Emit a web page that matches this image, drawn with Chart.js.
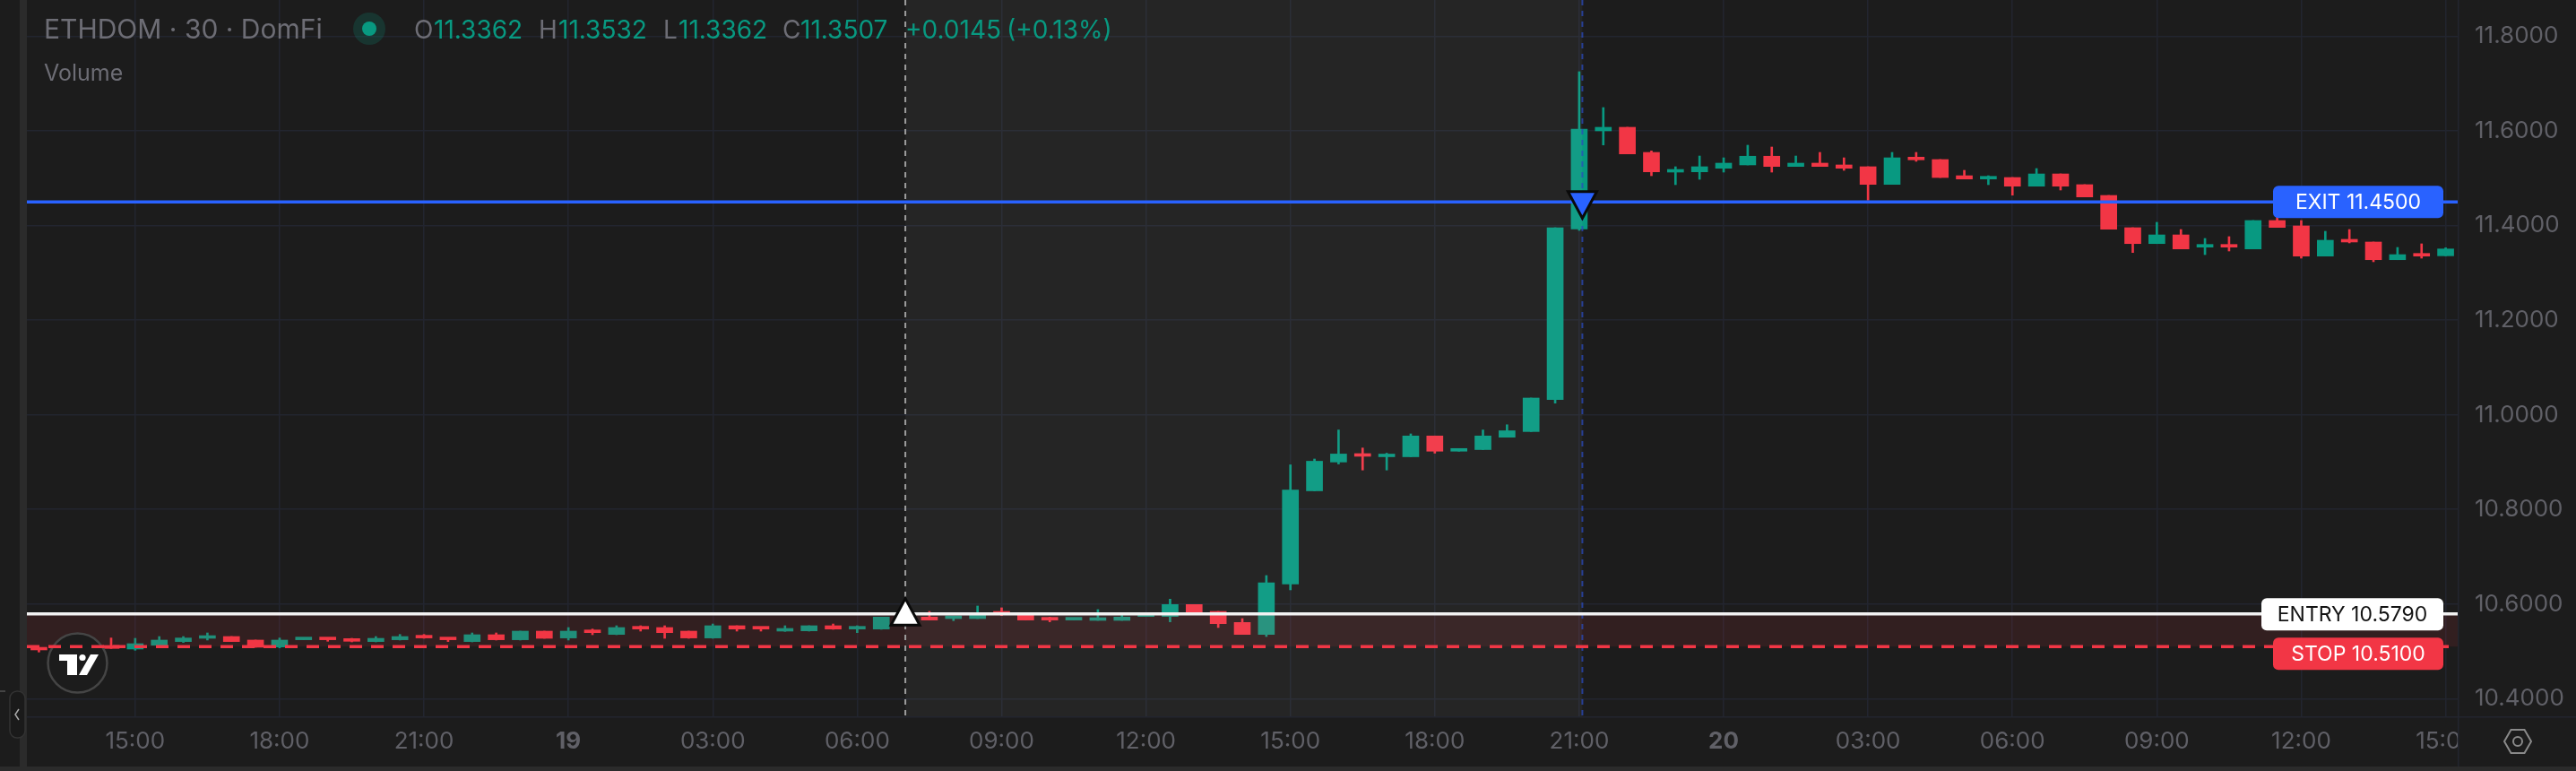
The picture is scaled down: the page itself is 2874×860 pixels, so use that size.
<!DOCTYPE html>
<html>
<head>
<meta charset="utf-8">
<style>
html,body{margin:0;padding:0;background:#1c1c1c;overflow:hidden}
canvas{display:block}
</style>
<script src="https://cdn.jsdelivr.net/npm/chart.js@4/dist/chart.umd.min.js"></script>
</head>
<body>
<canvas id="c" width="2874" height="860"></canvas>
<script>
const categories = [
"13:00","13:30","14:00","14:30","15:00","15:30","16:00","16:30","17:00","17:30","18:00","18:30",
"19:00","19:30","20:00","20:30","21:00","21:30","22:00","22:30","23:00","23:30",
"19","00:30","01:00","01:30","02:00","02:30","03:00","03:30","04:00","04:30","05:00","05:30","06:00","06:30",
"07:00","07:30","08:00","08:30","09:00","09:30","10:00","10:30","11:00","11:30","12:00","12:30",
"13:00","13:30","14:00","14:30","15:00","15:30","16:00","16:30","17:00","17:30","18:00","18:30",
"19:00","19:30","20:00","20:30","21:00","21:30","22:00","22:30","23:00","23:30",
"20","00:30","01:00","01:30","02:00","02:30","03:00","03:30","04:00","04:30","05:00","05:30","06:00","06:30",
"07:00","07:30","08:00","08:30","09:00","09:30","10:00","10:30","11:00","11:30","12:00","12:30",
"13:00","13:30","14:00","14:30","15:00"];
const tickLabels = ["15:00","18:00","21:00","19","03:00","06:00","09:00","12:00","20"];
const dayLabels = ["19","20"];
const priceTicks = [10.4,10.6,10.8,11.0,11.2,11.4,11.6,11.8];

const opens = [10.5054,10.5040,10.5060,10.5124,10.5048,10.5130,10.5206,10.5275,10.5313,10.5238,
10.5092,10.5244,10.5275,10.5244,10.5206,10.5244,10.5320,10.5275,10.5206,10.5351,
10.5244,10.5427,10.5282,10.5433,10.5357,10.5503,10.5503,10.5427,10.5282,10.5541,
10.5503,10.5427,10.5433,10.5541,10.5471,10.5471,10.5660,10.5724,10.5692,10.5692,
10.5800,10.5800,10.5686,10.5661,10.5654,10.5654,10.5736,10.5736,10.5989,10.5844,
10.5610,10.5357,10.6422,10.8393,10.9002,10.9172,10.9113,10.9113,10.9553,10.9231,
10.9265,10.9527,10.9646,11.0323,11.3928,11.6003,11.6079,11.5548,11.5131,11.5137,
11.5213,11.5283,11.5467,11.5251,11.5321,11.5283,11.5245,11.4872,11.5434,11.5397,
11.5055,11.4985,11.5017,11.4834,11.5093,11.4866,11.4638,11.3956,11.3620,11.3804,
11.3545,11.3577,11.3507,11.4108,11.3994,11.3355,11.3691,11.3653,11.3279,11.3387,11.3362];
const highs = [10.5061,10.5070,10.5085,10.5282,10.5275,10.5313,10.5313,10.5389,10.5313,10.5238,
10.5282,10.5275,10.5288,10.5275,10.5313,10.5357,10.5357,10.5288,10.5389,10.5389,
10.5427,10.5427,10.5503,10.5471,10.5541,10.5541,10.5541,10.5427,10.5578,10.5541,
10.5503,10.5541,10.5541,10.5578,10.5541,10.5724,10.5795,10.5844,10.5724,10.5958,
10.5920,10.5805,10.5724,10.5686,10.5882,10.5787,10.5800,10.6103,10.5989,10.5844,
10.5692,10.6602,10.8943,10.9066,10.9680,10.9299,10.9189,10.9597,10.9553,10.9282,
10.9680,10.9790,11.0355,11.3956,11.7254,11.6496,11.6079,11.5580,11.5245,11.5472,
11.5434,11.5700,11.5662,11.5472,11.5548,11.5434,11.5245,11.5548,11.5548,11.5397,
11.5169,11.5055,11.5017,11.5207,11.5093,11.4866,11.4638,11.3956,11.4070,11.3918,
11.3729,11.3767,11.4108,11.4221,11.4108,11.3880,11.3918,11.3653,11.3539,11.3615,11.3532];
const lows = [10.4985,10.5030,10.5050,10.5061,10.5023,10.5124,10.5187,10.5238,10.5206,10.5086,
10.5073,10.5244,10.5212,10.5199,10.5199,10.5238,10.5275,10.5206,10.5199,10.5238,
10.5238,10.5275,10.5238,10.5351,10.5351,10.5427,10.5275,10.5275,10.5275,10.5427,
10.5427,10.5421,10.5427,10.5465,10.5395,10.5465,10.5650,10.5661,10.5648,10.5692,
10.5755,10.5661,10.5623,10.5661,10.5654,10.5654,10.5736,10.5623,10.5787,10.5503,
10.5357,10.5313,10.6299,10.8393,10.8960,10.8833,10.8833,10.9113,10.9189,10.9231,
10.9265,10.9527,10.9646,11.0247,11.3899,11.5705,11.5516,11.5055,11.4866,11.4979,
11.5131,11.5283,11.5131,11.5251,11.5251,11.5169,11.4538,11.4872,11.5359,11.5017,
11.4985,11.4866,11.4644,11.4834,11.4752,11.4606,11.3924,11.3431,11.3620,11.3507,
11.3387,11.3463,11.3507,11.3962,11.3312,11.3355,11.3634,11.3236,11.3279,11.3312,11.3362];
const closes = [10.5029,10.5060,10.5075,10.5061,10.5162,10.5238,10.5282,10.5326,10.5206,10.5086,
10.5238,10.5275,10.5244,10.5212,10.5275,10.5313,10.5282,10.5244,10.5351,10.5244,
10.5427,10.5275,10.5427,10.5395,10.5503,10.5471,10.5395,10.5282,10.5541,10.5471,
10.5471,10.5465,10.5541,10.5471,10.5503,10.5724,10.5792,10.5661,10.5724,10.5768,
10.5787,10.5661,10.5661,10.5686,10.5686,10.5724,10.5787,10.5989,10.5787,10.5585,
10.5357,10.6450,10.8410,10.9019,10.9172,10.9123,10.9146,10.9553,10.9231,10.9282,
10.9553,10.9663,11.0355,11.3956,11.6041,11.6079,11.5516,11.5137,11.5169,11.5245,
11.5321,11.5467,11.5251,11.5321,11.5251,11.5213,11.4872,11.5434,11.5391,11.5017,
11.4985,11.5017,11.4834,11.5093,11.4834,11.4606,11.3924,11.3620,11.3804,11.3507,
11.3577,11.3545,11.4108,11.3962,11.3355,11.3691,11.3653,11.3279,11.3387,11.3355,11.3507];

const levelExit = 11.45, levelEntry = 10.579, levelStop = 10.51;
const entryIndex = 36, exitIndex = 64;
const exitTag = "EXIT 11.4500", entryTag = "ENTRY 10.5790", stopTag = "STOP 10.5100";
const headerTitle = "ETHDOM · 30 · DomFi";
const headerValues = ["11.3362","11.3532","11.3362","11.3507"];
const headerChange = "+0.0145", headerPct = "(+0.13%)";

const UP="#089981", DOWN="#f23645", GRID="#22252f", TEXT="#606067", FONT="Inter";

const bodyColors = categories.map((_,i)=> closes[i]>=opens[i] ? UP : DOWN);

const overlay = {
  id:"overlay",
  beforeDraw(chart){
    const {ctx,width,height}=chart;
    ctx.save(); ctx.fillStyle="#1c1c1c"; ctx.fillRect(0,0,width,height); ctx.restore();
  },
  afterDatasetsDraw(chart){
    const {ctx,chartArea:a,scales:{x,y}}=chart;
    const ex=x.getPixelForValue(entryIndex), xx=x.getPixelForValue(exitIndex)+3.5;
    const ye=y.getPixelForValue(levelEntry), ys=y.getPixelForValue(levelStop), yx=y.getPixelForValue(levelExit);
    ctx.save();
    ctx.fillStyle="rgba(255,255,255,0.042)"; ctx.fillRect(ex,a.top,xx-ex,a.bottom-a.top);
    ctx.fillStyle="rgba(242,54,69,0.10)"; ctx.fillRect(a.left,ye,a.right-a.left,ys-ye);
    ctx.beginPath(); ctx.arc(86.5,739.6,33,0,Math.PI*2); ctx.fillStyle="#1c1c1c"; ctx.fill();
    ctx.lineWidth=2.5; ctx.strokeStyle="#454545"; ctx.stroke();
    ctx.fillStyle="#fff";
    ctx.fillRect(66,730,20,7); ctx.fillRect(75,730,11,23);
    ctx.beginPath(); ctx.arc(92,733.5,3.6,0,Math.PI*2); ctx.fill();
    ctx.beginPath(); ctx.moveTo(101,730); ctx.lineTo(110,730); ctx.lineTo(97,753); ctx.lineTo(88,753); ctx.closePath(); ctx.fill();
    ctx.lineWidth=2; ctx.setLineDash([6,6]);
    ctx.strokeStyle="#9c9c9c"; ctx.beginPath(); ctx.moveTo(ex,a.top); ctx.lineTo(ex,a.bottom); ctx.stroke();
    ctx.strokeStyle="rgba(41,75,190,0.75)"; ctx.beginPath(); ctx.moveTo(xx,a.top); ctx.lineTo(xx,a.bottom); ctx.stroke();
    ctx.setLineDash([14,10]); ctx.lineWidth=3.5; ctx.strokeStyle=DOWN;
    ctx.beginPath(); ctx.moveTo(a.left,ys); ctx.lineTo(a.right,ys); ctx.stroke();
    ctx.setLineDash([]); ctx.lineWidth=3.5;
    ctx.strokeStyle="#f2f2f2"; ctx.beginPath(); ctx.moveTo(a.left,ye); ctx.lineTo(a.right,ye); ctx.stroke();
    ctx.strokeStyle="#2962ff"; ctx.beginPath(); ctx.moveTo(a.left,yx); ctx.lineTo(a.right,yx); ctx.stroke();
    ctx.lineJoin="miter"; ctx.lineWidth=6; ctx.strokeStyle="#0a0a0a";
    ctx.fillStyle="#ffffff"; ctx.beginPath(); ctx.moveTo(ex,ye-14); ctx.lineTo(ex+13.5,ye+11); ctx.lineTo(ex-13.5,ye+11); ctx.closePath(); ctx.stroke(); ctx.fill();
    ctx.fillStyle="#2962ff"; ctx.beginPath(); ctx.moveTo(xx,yx+15); ctx.lineTo(xx+13.5,yx-10); ctx.lineTo(xx-13.5,yx-10); ctx.closePath(); ctx.stroke(); ctx.fill();
    const tag=(t,l,r,cy,bg,fg)=>{
      ctx.fillStyle=bg; ctx.beginPath(); ctx.roundRect(l,cy-18,r-l,36,6); ctx.fill();
      ctx.fillStyle=fg; ctx.font="23px "+FONT; ctx.textAlign="center"; ctx.textBaseline="middle";
      ctx.fillText(t,(l+r)/2,cy+1);
    };
    tag(exitTag,2536,2726,yx,"#2962ff","#ffffff");
    tag(entryTag,2523,2726,ye+0.5,"#ffffff","#131313");
    tag(stopTag,2536,2726,ys+8,DOWN,"#ffffff");
    ctx.textAlign="left"; ctx.textBaseline="alphabetic"; ctx.font="30px "+FONT;
    const base=43, G="#089981", L="#6d6d75";
    const put=(t,px,c)=>{ctx.fillStyle=c; ctx.fillText(t,px,base);};
    put(headerTitle,49,L);
    ctx.font="28px "+FONT;
    ctx.beginPath(); ctx.arc(412,32,18,0,Math.PI*2); ctx.fillStyle="rgba(8,153,129,0.2)"; ctx.fill();
    ctx.beginPath(); ctx.arc(412,32,8,0,Math.PI*2); ctx.fillStyle=G; ctx.fill();
    put("O",462,L); put(headerValues[0],484,G);
    put("H",601,L); put(headerValues[1],623,G);
    put("L",740,L); put(headerValues[2],757,G);
    put("C",873,L); put(headerValues[3],893,G);
    put(headerChange,1010,G); put(headerPct,1123,G);
    ctx.font="25px "+FONT; ctx.fillStyle=L; ctx.fillText("Volume",49,90);
    ctx.restore();
  },
  afterDraw(chart){
    const {ctx,width,height,chartArea:a}=chart;
    ctx.save();
    ctx.fillStyle="#1c1c1c"; ctx.fillRect(a.right,a.bottom,width-a.right,height-a.bottom);
    ctx.fillStyle=GRID; ctx.fillRect(a.right,0,1.5,855);
    ctx.fillRect(a.left,a.bottom,width-a.left,1.5);
    const gx=2809,gy=827,R=15;
    ctx.strokeStyle="#8a8a8a"; ctx.lineWidth=2;
    ctx.beginPath();
    for(let k=0;k<6;k++){const t=k*Math.PI/3; const px=gx+R*Math.cos(t), py=gy+R*Math.sin(t); k?ctx.lineTo(px,py):ctx.moveTo(px,py);}
    ctx.closePath(); ctx.stroke();
    ctx.beginPath(); ctx.arc(gx,gy,5,0,Math.PI*2); ctx.stroke();
    ctx.fillStyle="#2b2b2b"; ctx.fillRect(22,0,8,860); ctx.fillRect(0,855,width,5);
    ctx.fillStyle="#1a1a1a"; ctx.strokeStyle="#333"; ctx.lineWidth=1.5;
    ctx.beginPath(); ctx.roundRect(11,771,17,52,8); ctx.fill(); ctx.stroke();
    ctx.strokeStyle="#aaa"; ctx.lineWidth=1.5;
    ctx.beginPath(); ctx.moveTo(21,791); ctx.lineTo(17,797); ctx.lineTo(21,803); ctx.stroke();
    ctx.fillStyle="#444"; ctx.fillRect(0,770,6,2);
    ctx.restore();
  }
};

new Chart(document.getElementById("c"),{
  data:{
    labels:categories,
    datasets:[
      {type:"bar",label:"Body",order:1,grouped:false,barThickness:18,minBarLength:3,borderWidth:0,borderSkipped:false,
       backgroundColor:bodyColors,data:categories.map((_,i)=>[opens[i],closes[i]])},
      {type:"bar",label:"Wick",order:2,grouped:false,barThickness:2,borderWidth:0,borderSkipped:false,
       backgroundColor:bodyColors,data:categories.map((_,i)=>[lows[i],highs[i]])}
    ]
  },
  options:{
    responsive:false,animation:false,devicePixelRatio:1,
    layout:{padding:{left:30,right:0,top:0,bottom:0}},
    plugins:{legend:{display:false},title:{display:false},tooltip:{enabled:false}},
    scales:{
      x:{type:"category",offset:true,
        afterFit(s){s.height=61;s.paddingLeft=0;s.paddingRight=0;},
        grid:{offset:false,drawTicks:false,color:c=>(c.tick&&c.tick.label)?GRID:"rgba(0,0,0,0)",lineWidth:1.5},
        border:{display:false},
        ticks:{autoSkip:false,maxRotation:0,minRotation:0,padding:13,color:TEXT,
          font:c=>({family:FONT,size:26,weight:dayLabels.includes(c.tick&&c.tick.label)?"700":"400"}),
          callback(v){const l=this.getLabelForValue(v);return tickLabels.includes(l)?l:"";}}
      },
      y:{type:"linear",position:"right",min:10.3626,max:11.877,
        afterFit(s){s.width=132;s.paddingTop=0;s.paddingBottom=0;},
        afterBuildTicks(s){s.ticks=priceTicks.map(v=>({value:v}));},
        grid:{drawTicks:false,color:GRID,lineWidth:1.5},
        border:{display:false},
        ticks:{includeBounds:false,padding:19,color:TEXT,font:{family:FONT,size:26},callback:v=>v.toFixed(4)}
      }
    }
  },
  plugins:[overlay]
});
</script>
</body>
</html>
